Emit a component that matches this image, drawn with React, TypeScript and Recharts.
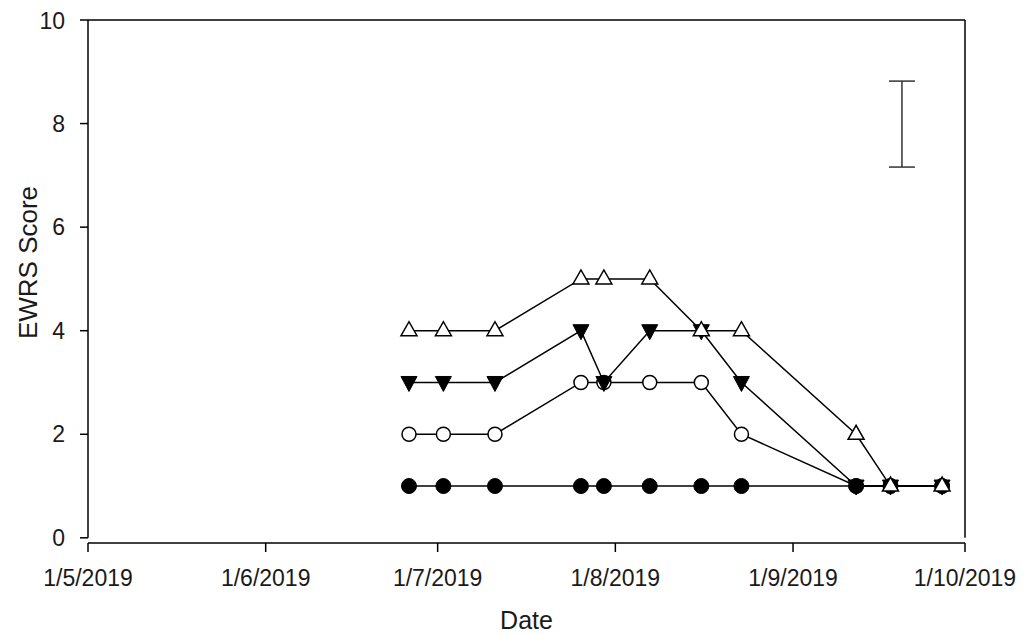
import React from 'react';
import {
  ComposedChart,
  Line,
  Scatter,
  ErrorBar,
  XAxis,
  YAxis,
  ReferenceLine,
} from 'recharts';

const day = (m: number, d: number) => Date.UTC(2019, m - 1, d);

// sampling dates (day/month/year on the axis)
const sampleDates = [
  day(6, 26), day(7, 2), day(7, 11), day(7, 26), day(7, 30), day(8, 7),
  day(8, 16), day(8, 23), day(9, 12), day(9, 18), day(9, 27),
];

const openTriangle = [4, 4, 4, 5, 5, 5, 4, 4, 2, 1, 1];
const filledTriangle = [3, 3, 3, 4, 3, 4, 4, 3, 1, 1, 1];
const openCircle = [2, 2, 2, 3, 3, 3, 3, 2, 1, 1, 1];
const filledCircle = [1, 1, 1, 1, 1, 1, 1, 1, 1, 1, 1];

const tickDates = [day(5, 1), day(6, 1), day(7, 1), day(8, 1), day(9, 1), day(10, 1)];
const tickLabels = ['1/5/2019', '1/6/2019', '1/7/2019', '1/8/2019', '1/9/2019', '1/10/2019'];
const yTicks = [0, 2, 4, 6, 8, 10];

// pooled error bar shown in the upper right
const errorBarPoint = [{ date: day(9, 20), score: 7.99, err: 0.83 }];

const data = sampleDates.map((date, i) => ({
  date,
  openTriangle: openTriangle[i],
  filledTriangle: filledTriangle[i],
  openCircle: openCircle[i],
  filledCircle: filledCircle[i],
}));

const FONT = '"Liberation Sans", Arial, sans-serif';
const TEXT = '#1a1a1a';

const dotFilledCircle = (p: any) => (
  <circle key={p.key} cx={p.cx} cy={p.cy} r={7.5} fill="#000" stroke="#000" strokeWidth={1} />
);
const dotOpenCircle = (p: any) => (
  <circle key={p.key} cx={p.cx} cy={p.cy} r={7} fill="#fff" stroke="#000" strokeWidth={1.5} />
);
const dotTriangleDown = (p: any) => (
  <polygon
    key={p.key}
    points={`${p.cx - 8},${p.cy - 6} ${p.cx + 8},${p.cy - 6} ${p.cx},${p.cy + 9}`}
    fill="#000"
    stroke="#000"
    strokeWidth={1}
    strokeLinejoin="miter"
  />
);
const dotTriangleUp = (p: any) => (
  <polygon
    key={p.key}
    points={`${p.cx - 8},${p.cy + 5} ${p.cx + 8},${p.cy + 5} ${p.cx},${p.cy - 9}`}
    fill="#fff"
    stroke="#000"
    strokeWidth={1.5}
    strokeLinejoin="miter"
  />
);

const labelFor = (ts: number) => tickLabels[tickDates.indexOf(ts)] ?? '';

export default function App() {
  return (
    <div style={{ fontFamily: FONT }}>
      <ComposedChart
        width={1010}
        height={626}
        data={data}
        margin={{ top: 12, right: 53, bottom: 0, left: 0 }}
      >
        <XAxis
          dataKey="date"
          type="number"
          domain={[tickDates[0], tickDates[tickDates.length - 1]]}
          ticks={tickDates}
          tickFormatter={labelFor}
          height={91}
          tickSize={9}
          tickMargin={18}
          stroke="#000"
          strokeWidth={1.5}
          tick={{ fill: TEXT, fontSize: 23, fontFamily: FONT }}
          label={{
            content: (props: any) => {
              const vb = props.viewBox;
              return (
                <text
                  x={vb.x + vb.width / 2}
                  y={vb.y + 77}
                  textAnchor="middle"
                  dominantBaseline="central"
                  fontSize={25}
                  fill={TEXT}
                  fontFamily={FONT}
                >
                  Date
                </text>
              );
            },
          }}
        />
        <YAxis
          type="number"
          domain={[-0.1, 10]}
          ticks={yTicks}
          width={80}
          axisLine={false}
          tickSize={8}
          tickMargin={15}
          stroke="#000"
          tick={{ fill: TEXT, fontSize: 23, fontFamily: FONT }}
          tickLine={{ stroke: '#000', strokeWidth: 1.5 }}
          label={{
            content: (props: any) => {
              const vb = props.viewBox;
              const cx = vb.x + 20;
              const cy = vb.y + vb.height / 2 - 19;
              return (
                <text
                  x={cx}
                  y={cy}
                  transform={`rotate(-90 ${cx} ${cy})`}
                  textAnchor="middle"
                  dominantBaseline="central"
                  fontSize={26}
                  fill={TEXT}
                  fontFamily={FONT}
                >
                  EWRS Score
                </text>
              );
            },
          }}
        />

        {/* frame: left axis, top and right edges */}
        <ReferenceLine
          segment={[{ x: tickDates[0], y: 0 }, { x: tickDates[0], y: 10 }]}
          stroke="#000"
          strokeWidth={1.5}
        />
        <ReferenceLine y={10} stroke="#000" strokeWidth={1.5} />
        <ReferenceLine
          segment={[
            { x: tickDates[tickDates.length - 1], y: 0 },
            { x: tickDates[tickDates.length - 1], y: 10 },
          ]}
          stroke="#000"
          strokeWidth={1.5}
        />

        <Line
          dataKey="openCircle"
          type="linear"
          stroke="#000"
          strokeWidth={1.5}
          dot={dotOpenCircle}
          activeDot={false}
          isAnimationActive={false}
        />
        <Line
          dataKey="filledTriangle"
          type="linear"
          stroke="#000"
          strokeWidth={1.5}
          dot={dotTriangleDown}
          activeDot={false}
          isAnimationActive={false}
        />
        <Line
          dataKey="filledCircle"
          type="linear"
          stroke="#000"
          strokeWidth={1.5}
          dot={dotFilledCircle}
          activeDot={false}
          isAnimationActive={false}
        />
        <Line
          dataKey="openTriangle"
          type="linear"
          stroke="#000"
          strokeWidth={1.5}
          dot={dotTriangleUp}
          activeDot={false}
          isAnimationActive={false}
        />

        <Scatter
          data={errorBarPoint}
          dataKey="score"
          shape={() => <g />}
          isAnimationActive={false}
        >
          <ErrorBar dataKey="err" direction="y" width={13} stroke="#333" strokeWidth={1.5} />
        </Scatter>
      </ComposedChart>
    </div>
  );
}
